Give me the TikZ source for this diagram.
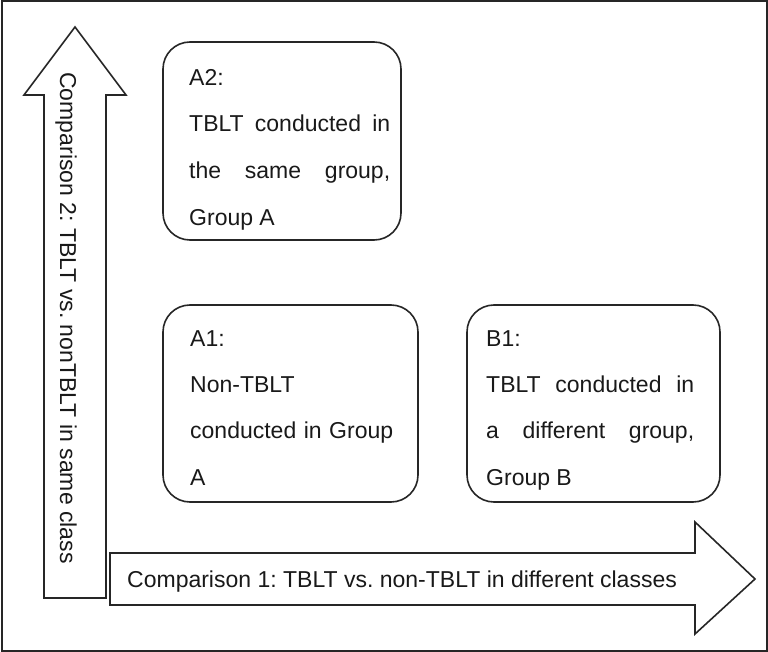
\documentclass[tikz,border=0pt]{standalone}
\usepackage{fontspec}
\setmainfont{Liberation Sans}
\frenchspacing
\begin{document}
\begin{tikzpicture}[x=1pt,y=-1pt,
  frame/.style={draw=black!85,line width=2pt},
  arrowshape/.style={draw=black!85,line width=1.6pt,line join=miter,fill=white},
  rbox/.style={draw=black!85,line width=1.6pt,rounded corners=27pt,inner sep=0pt},
  txt/.style={anchor=base west,inner sep=0pt,font=\fontsize{23}{27}\selectfont,text=black!90},
  atxt/.style={inner sep=0pt,font=\fontsize{23}{27}\selectfont,text=black!90}]
\useasboundingbox (0,0) rectangle (768,652);
\draw[frame] (1.5,1.5) rectangle (766.5,650.5);
% vertical arrow
\draw[arrowshape] (75,27) -- (126,95) -- (106,95) -- (106,598) -- (44,598) -- (44,95) -- (24,95) -- cycle;
\node[atxt,rotate=-90,anchor=base] (c2) at (60,318) {Comparison 2: TBLT vs. nonTBLT in same class};
% horizontal arrow
\draw[arrowshape] (110,553) -- (695,553) -- (695,522) -- (755,579) -- (695,634) -- (695,605) -- (110,605) -- cycle;
\node[txt] (c1) at (127,587) {Comparison 1: TBLT vs. non-TBLT in different classes};
% boxes
\node[rbox,minimum width=238pt,minimum height=198pt] (a2) at (282,141) {};
\node[rbox,minimum width=255pt,minimum height=197pt] (a1) at (290.5,403.5) {};
\node[rbox,minimum width=253pt,minimum height=197pt] (b1) at (593.5,403.5) {};
% A2 text
\begin{scope}
\clip (163,42) rectangle (401,230);
\node[txt] (a2l1) at (189,86) {A2:};
\node[txt] (a2l2) at (189,132) {\makebox[201pt][s]{TBLT conducted in}};
\node[txt] (a2l3) at (189,179) {\makebox[201pt][s]{the same group,}};
\node[txt] (a2l4) at (189,226) {Group A};
\end{scope}
% A1 text
\begin{scope}
\clip (163,304) rectangle (418,489);
\node[txt] (a1l1) at (190,346) {A1:};
\node[txt] (a1l2) at (190,392) {Non-TBLT};
\node[txt] (a1l3) at (190,438) {\makebox[203pt][s]{conducted in Group}};
\node[txt] (a1l4) at (190,485) {A};
\end{scope}
% B1 text
\begin{scope}
\clip (467,304) rectangle (720,489);
\node[txt] (b1l1) at (486,346) {B1:};
\node[txt] (b1l2) at (486,392) {\makebox[208pt][s]{TBLT conducted in}};
\node[txt] (b1l3) at (486,438) {\makebox[208pt][s]{a different group,}};
\node[txt] (b1l4) at (486,485) {Group B};
\end{scope}
\end{tikzpicture}
\end{document}
